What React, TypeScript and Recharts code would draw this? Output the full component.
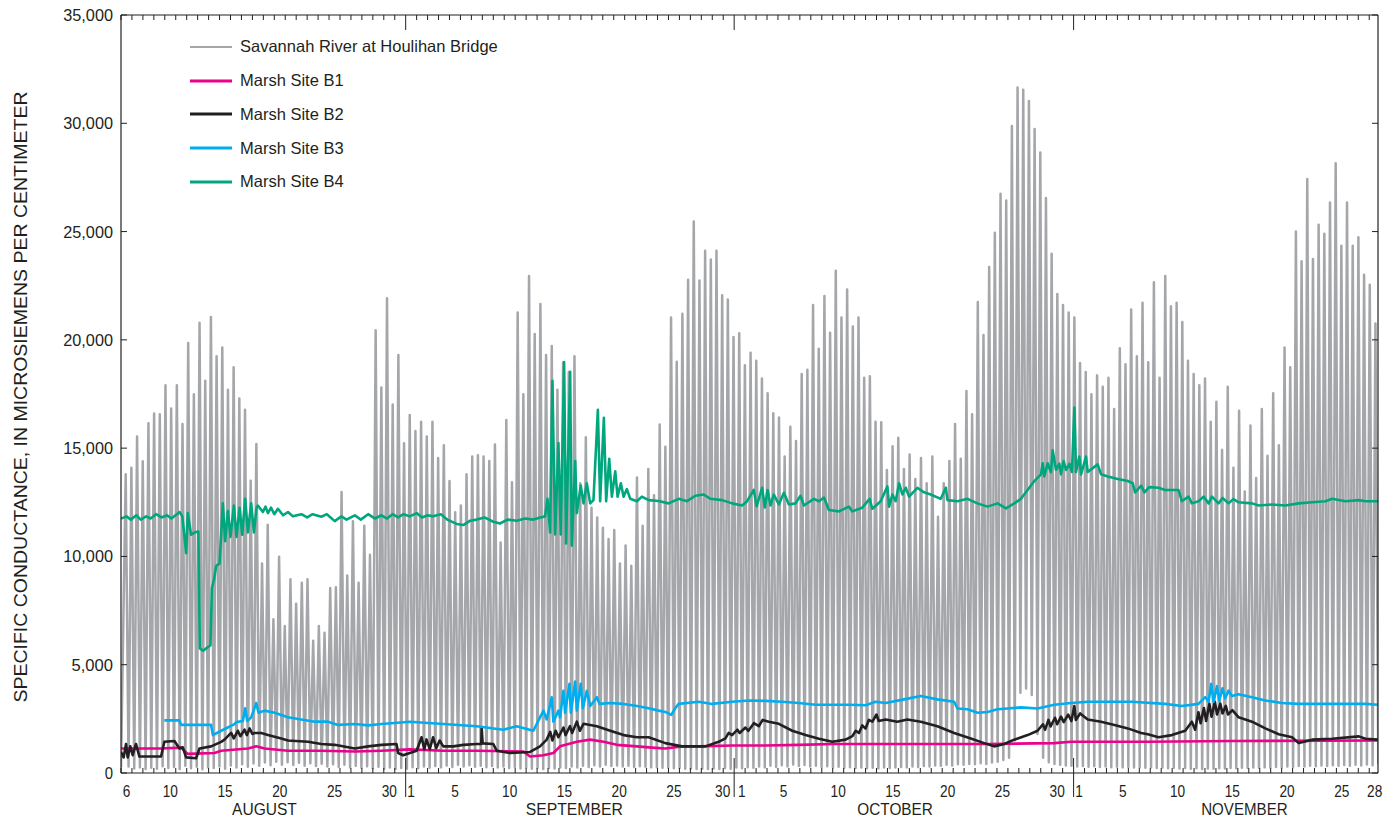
import { LineChart, Line, XAxis, YAxis, Legend } from "recharts";

const INK = "#231f20";
const SANS = "'Liberation Sans', Arial, sans-serif";

// frame of the plotting area, px
const W = 1400;
const H = 823;
const LEFT = 121;
const RIGHT = 1378;
const TOP = 15;
const BOTTOM = 773;

// x axis is in days counted from Aug 6, 00:00; it ends late on Nov 28
const DAY_SPAN = 114.8;
const DAY_BOUNDARIES = Array.from({ length: 115 }, (_, i) => i);
const MONTH_STARTS = [26, 56, 87];
// day numbers sit at the middle of their day (Sep 30 / Oct 1 nudged apart around the divider)
const DAY_LABELS = [
  [0.5, "6"], [4.5, "10"], [9.5, "15"], [14.5, "20"], [19.5, "25"], [24.5, "30"],
  [26.5, "1"], [30.5, "5"], [35.5, "10"], [40.5, "15"], [45.5, "20"], [50.5, "25"], [54.95, "30"],
  [56.7, "1"], [60.5, "5"], [65.5, "10"], [70.5, "15"], [75.5, "20"], [80.5, "25"], [85.5, "30"],
  [87.5, "1"], [91.5, "5"], [96.5, "10"], [101.5, "15"], [106.5, "20"], [111.5, "25"], [114.5, "28"],
] as const;
const MONTH_LABELS = [
  [13.1, "AUGUST"], [41.4, "SEPTEMBER"], [70.7, "OCTOBER"], [102.6, "NOVEMBER"],
] as const;
const Y_TICKS = [0, 5000, 10000, 15000, 20000, 25000, 30000, 35000];

// Savannah River: one high and the following low per semidiurnal tide
const RIVER_FIRST_PEAK = 0.43;
const RIVER_STEP = 0.5188;
const RIVER_START_LOW = 260;
const RIVER_HIGHS = [
  13790, 14100, 15540, 14400, 16150, 16600, 16570, 17900, 16830, 17900,
  16110, 19860, 17490, 20790, 18110, 21050, 19240, 19650, 17700, 18730,
  17290, 16770, 13500, 15190, 9670, 11460, 7100, 9980, 6790, 8950,
  7820, 8790, 8950, 6110, 6790, 6480, 8540, 8580, 12970, 9120,
  11630, 8790, 11420, 10080, 20440, 17800,
  21920, 17020, 19300, 15230, 16530, 15790, 16220, 15540, 16220, 14550,
  15130, 13480, 12040, 12350, 13790, 14610, 14670, 14610, 14410, 15170,
  10640, 16300, 13420, 21260, 17490, 22950, 20270, 21650, 19300, 19720,
  17700, 18970, 18520, 19240, 13380, 15500, 12250, 11800, 11320, 10800,
  11220, 9670, 10500, 9570, 13640,
  11420, 14040, 12820, 16090, 15060, 21030, 18990, 21200, 22780, 25460,
  22740, 24120, 23710, 24120, 22060, 21860, 20130, 20310, 18830, 19410,
  19040, 18210, 17530, 16610, 16420, 14610, 15990, 15330, 18420, 18620,
  21610, 19590, 22020, 20330, 23190, 21030, 22330, 20620, 21030, 18250,
  18320, 16220, 16200, 13990,
  15090, 15480, 14040, 14710, 13580, 14550, 13380, 14610, 11830, 13380,
  14410, 16110, 14510, 17640, 16570, 21750, 20230, 23360, 24940, 26750,
  26440, 29880, 31650, 31550, 31030, 29740, 28650, 26550, 23980, 22120,
  21610, 21260, 21030, 18930, 18520, 17490, 18360, 17840, 18250, 16810,
  19610, 18870,
  21400, 19240, 21710, 18970, 22660, 18250, 22950, 21550, 21710, 20830,
  19030, 18420, 17900, 18210, 16220, 17140, 14920, 17830, 14100, 16730,
  13000, 16050, 13620, 16810, 14650, 17530, 15130, 19650, 18730, 25000,
  23630, 27430, 23730, 25310, 24900, 26340, 28150, 24350, 26340, 24350,
  24740, 23010, 22540, 20750,
];
const RIVER_LOWS = [
  300, 210, 260, 180, 240, 200, 310, 230, 280, 190,
  330, 220, 290, 170, 260, 230, 300, 200, 350, 250,
  400, 290, 440, 330, 480, 360, 520, 380, 500, 370,
  470, 340, 450, 320, 430, 300, 400, 280, 380, 260,
  340, 240, 310, 220, 290, 200,
  250, 180, 230, 200, 270, 220, 300, 240, 320, 260,
  350, 280, 380, 300, 360, 290, 340, 270, 320, 250,
  300, 230, 280, 210, 260, 200, 240, 190, 230, 210,
  260, 230, 300, 250, 330, 280, 360, 300, 380, 320,
  350, 300, 330, 280, 310,
  290, 260, 270, 240, 250, 220, 230, 200, 210, 190,
  200, 180, 210, 190, 230, 200, 250, 220, 270, 240,
  300, 260, 330, 280, 360, 300, 390, 320, 370, 300,
  340, 280, 310, 260, 290, 240, 270, 230, 250, 220,
  240, 210, 260, 230,
  250, 280, 260, 300, 280, 320, 300, 350, 330, 380,
  350, 400, 380, 420, 400, 450, 420, 480, 520, 600,
  700, 1500, 3700, 3900, 3600, 1800, 700, 500, 420, 380,
  350, 330, 300, 320, 290, 310, 280, 300, 270, 290,
  260, 280,
  250, 270, 240, 260, 230, 250, 220, 240, 210, 230,
  200, 220, 190, 210, 200, 220, 210, 230, 220, 240,
  230, 250, 240, 260, 250, 280, 260, 300, 280, 320,
  300, 340, 310, 350, 320, 360, 330, 370, 340, 380,
  350, 390, 360, 400,
];

// marsh sites: [day, specific conductance]
const B1_POINTS = [
  [0, 1130], [3.66, 1130], [5.49, 1170], [6.1, 885], [8.54, 925], [9.15, 1030],
  [11.59, 1130], [12.35, 1230], [13.11, 1130], [15.25, 1030], [18.3, 1030],
  [21.35, 990], [23.79, 1030], [26.38, 1090], [29.43, 1030], [32.48, 1030],
  [36.75, 990], [37.36, 760], [38.58, 820], [39.49, 925], [40.1, 1230],
  [41.63, 1440], [42.85, 1540], [44.07, 1440], [45.29, 1300], [47.12, 1230],
  [48.5, 1170], [49.71, 1130], [51.23, 1230], [52.76, 1230], [55.81, 1270],
  [58.86, 1270], [61.91, 1300], [64.96, 1340], [68.01, 1340], [70, 1340],
  [79.14, 1340], [85.24, 1380], [86.76, 1440], [93.78, 1440], [101.46, 1480],
  [114.8, 1500],
];
const B2_POINTS = [
  [0, 970], [0.24, 720], [0.46, 1340], [0.61, 720], [0.85, 1230], [1.07, 820],
  [1.37, 1340], [1.68, 760], [3.66, 760], [3.96, 1440], [4.88, 1480], [5.34, 1130],
  [5.64, 1190], [5.95, 720], [6.86, 680], [7.17, 1130], [8.23, 1230], [9.15, 1440],
  [9.45, 1540], [10.06, 1850], [10.3, 1600], [10.67, 1950], [10.9, 1700],
  [11.28, 2000], [11.5, 1750], [11.74, 2060], [12.0, 1800], [12.2, 1850],
  [12.81, 1850], [13.42, 1750], [14.64, 1590], [15.25, 1500], [17.08, 1440],
  [18.3, 1340], [19.52, 1300], [21.35, 1130], [22.57, 1230], [23.79, 1300],
  [25.16, 1340], [25.31, 925], [25.77, 820], [26.38, 925], [27.0, 1030],
  [27.45, 1650], [27.7, 1100], [27.9, 1550], [28.2, 1100], [28.5, 1650],
  [28.8, 1150], [29.1, 1500], [29.43, 1230], [30.35, 1230], [31.26, 1300],
  [32.48, 1340], [32.9, 1340], [32.94, 2060], [33.03, 1370], [34.0, 1340],
  [34.31, 1030], [35.53, 925], [37.36, 970], [38.27, 1230], [38.88, 1540],
  [39.2, 1900], [39.4, 1500], [39.7, 1950], [39.95, 1650], [40.41, 2100],
  [40.6, 1750], [41.0, 2160], [41.2, 1850], [41.63, 2370], [41.9, 1950],
  [42.24, 2270], [42.85, 2220], [43.46, 2160], [44.68, 1950], [45.9, 1750],
  [47.12, 1650], [48.19, 1650], [49.71, 1380], [51.23, 1230], [52.45, 1230],
  [53.37, 1230], [54.59, 1440], [55.2, 1600], [55.5, 1850], [55.81, 1750],
  [56.3, 2000], [56.5, 1850], [57.03, 2100], [57.3, 1950], [57.8, 2300],
  [58.25, 2160], [58.6, 2450], [59.16, 2370], [60.08, 2270], [61.3, 1950],
  [62.52, 1750], [63.74, 1580], [64.96, 1440], [66.18, 1540], [66.8, 1700],
  [67.1, 1950], [67.4, 1850], [67.7, 2200], [68.0, 2050], [68.3, 2450],
  [68.62, 2370], [69.0, 2700], [69.2, 2400], [69.84, 2470], [70.9, 2370],
  [71.82, 2470], [73.04, 2370], [74.56, 2160], [76.09, 1850], [77.61, 1590],
  [78.83, 1380], [79.75, 1230], [80.66, 1340], [81.58, 1540], [82.8, 1750],
  [83.71, 1950], [84.2, 2250], [84.4, 2000], [84.7, 2450], [84.9, 2150],
  [85.3, 2550], [85.5, 2250], [85.85, 2600], [86.1, 2350], [86.5, 2700],
  [86.8, 2400], [87.07, 3090], [87.2, 2450], [87.6, 2750], [88.29, 2470],
  [89.51, 2370], [90.73, 2220], [91.95, 2060], [93.17, 1850], [93.78, 1790],
  [94.75, 1650], [95.97, 1750], [97.19, 1950], [97.8, 2370], [98.1, 2000],
  [98.4, 2800], [98.6, 2300], [98.9, 3000], [99.1, 2400], [99.4, 3200],
  [99.6, 2600], [99.9, 3290], [100.1, 2700], [100.4, 3200], [100.6, 2750],
  [100.9, 3100], [101.1, 2700], [101.5, 2900], [102.07, 2570], [103.29, 2370],
  [104.51, 2060], [105.73, 1790], [106.95, 1650], [107.56, 1380], [108.78, 1540],
  [110.61, 1580], [113.05, 1690], [113.66, 1580], [114.8, 1540],
];
const B3_POINTS = [
  [3.96, 2430], [5.34, 2430], [5.49, 2220], [8.23, 2220], [8.39, 1750],
  [9.15, 1950], [10.37, 2260], [10.52, 2350], [11.13, 2400], [11.34, 2990],
  [11.53, 2400], [11.89, 2570], [12.35, 3230], [12.56, 2780], [13.11, 2880],
  [14.03, 2780], [15.25, 2570], [16.47, 2470], [17.69, 2370], [18.91, 2370],
  [19.82, 2220], [21.35, 2260], [22.57, 2200], [23.79, 2260], [26.38, 2370],
  [29.43, 2260], [32.48, 2160], [34.92, 2000], [36.14, 2160], [37.66, 1950],
  [38.27, 2570], [38.58, 2880], [38.88, 2470], [39.34, 3500], [39.49, 2370],
  [39.95, 2880], [40.1, 2570], [40.41, 3800], [40.56, 2780], [40.96, 4120],
  [41.08, 2780], [41.48, 4220], [41.63, 2880], [41.99, 4120], [42.18, 2990],
  [42.54, 3800], [42.85, 3090], [43.46, 3500], [43.7, 3190], [44.68, 3230],
  [45.9, 3190], [47.12, 3090], [48.19, 2990], [49.1, 2880], [49.71, 2820],
  [50.26, 2680], [50.62, 2990], [50.93, 3190], [52.76, 3290], [53.98, 3190],
  [55.81, 3290], [57.33, 3350], [58.86, 3330], [60.38, 3290], [61.91, 3230],
  [63.43, 3150], [64.96, 3150], [66.48, 3150], [68.01, 3130], [68.92, 3290],
  [69.84, 3230], [71.51, 3400], [73.04, 3560], [74.56, 3400], [76.09, 3290],
  [76.39, 2980], [77.31, 2940], [78.22, 2780], [79.14, 2820], [80.05, 2940],
  [80.97, 2980], [82.19, 3030], [83.71, 2980], [85.24, 3150], [86.76, 3230],
  [88.29, 3290], [91.34, 3290], [92.31, 3290], [95.36, 3190], [96.88, 3090],
  [98.41, 3190], [99.02, 3500], [99.33, 3300], [99.57, 4120], [99.78, 3290],
  [100.09, 4010], [100.3, 3350], [100.6, 3910], [100.85, 3450], [101.15, 3810],
  [101.46, 3550], [102.07, 3640], [103.29, 3500], [104.51, 3350], [106.03, 3230],
  [107.56, 3190], [110.61, 3190], [113.66, 3190], [114.8, 3150],
];
const B4_POINTS = [
  [0, 11750], [0.5, 11850], [0.9, 11700], [1.4, 11900], [1.8, 11700], [2.3, 11850],
  [2.7, 11750], [3.2, 11950], [3.7, 11800], [4.2, 11900], [4.6, 11750], [5.1, 11950],
  [5.35, 12050], [5.6, 11850], [5.95, 10150], [6.1, 12000], [6.4, 11000], [6.7, 11100],
  [7.07, 11150], [7.2, 5750], [7.5, 5650], [8.17, 5900], [8.3, 8540], [8.5, 8950],
  [8.7, 9570], [9.0, 9670], [9.3, 12450], [9.51, 10700], [9.76, 12100], [10.0, 10900],
  [10.31, 12350], [10.55, 10900], [10.83, 12250], [11.07, 11000], [11.34, 12660],
  [11.59, 11110], [11.89, 12450], [12.14, 11110], [12.38, 12250], [12.5, 12350],
  [12.96, 12050], [13.2, 12300], [13.42, 12000], [13.7, 12250], [14.0, 11950],
  [14.33, 12200], [14.8, 11900], [15.25, 12050], [15.7, 11850], [16.47, 11950],
  [17.0, 11800], [17.5, 11950], [18.3, 11830], [18.8, 11950], [19.52, 11630],
  [20.13, 11850], [20.6, 11700], [21.35, 11900], [21.9, 11700], [22.57, 11950],
  [23.2, 11750], [23.79, 11900], [24.3, 11750], [24.8, 11950], [25.31, 11800],
  [25.8, 11950], [26.38, 11850], [27.0, 12000], [27.5, 11800], [28.0, 11900],
  [28.5, 11850], [29.2, 11950], [29.8, 11700], [30.65, 11500], [31.26, 11450],
  [31.9, 11650], [32.48, 11700], [33.2, 11800], [34.0, 11600], [34.61, 11520],
  [35.3, 11700], [36.14, 11650], [36.9, 11750], [37.66, 11700], [38.3, 11800],
  [38.73, 11850], [38.95, 12660], [39.19, 11110], [39.4, 18110], [39.65, 11010],
  [39.95, 15230], [40.16, 11010], [40.47, 18970], [40.65, 10600], [41.02, 18520],
  [41.17, 10500], [41.48, 14400], [41.63, 12000], [41.99, 13270], [42.24, 12450],
  [42.54, 13380], [42.85, 12450], [43.15, 12600], [43.55, 16770], [43.76, 12550],
  [44.1, 16400], [44.31, 12550], [44.59, 14510], [44.83, 12760], [45.14, 13930],
  [45.35, 12760], [45.65, 13380], [45.9, 12760], [46.2, 13110], [46.51, 12660],
  [47.12, 12550], [47.57, 12760], [48.19, 12600], [49.1, 12560], [50.01, 12450],
  [50.93, 12660], [51.7, 12550], [52.45, 12800], [53.22, 12860], [53.83, 12660],
  [54.9, 12600], [55.81, 12450], [56.72, 12350], [57.18, 12550], [57.79, 13070],
  [58.05, 12310], [58.55, 13170], [58.8, 12260], [59.05, 13070], [59.32, 12350],
  [59.62, 12860], [60.08, 12400], [60.54, 12940], [61.0, 12400], [61.6, 12450],
  [62.06, 12800], [62.37, 12350], [63.28, 12660], [63.74, 12550], [64.2, 12720],
  [64.65, 12140], [65.57, 12080], [66.48, 12300], [66.79, 12080], [67.7, 12250],
  [68.37, 12660], [68.62, 12200], [69.38, 12550], [69.99, 13230], [70.15, 12300],
  [70.45, 12860], [70.75, 12550], [71.06, 13380], [71.36, 12860], [71.67, 13170],
  [71.97, 12760], [72.73, 13170], [73.34, 12960], [73.95, 12860], [74.87, 12660],
  [75.33, 13170], [75.48, 12600], [76.39, 12550], [77.31, 12660], [78.22, 12450],
  [79.14, 12300], [80.05, 12450], [80.82, 12220], [81.58, 12450], [82.19, 12660],
  [82.8, 13070], [83.41, 13480], [84.02, 13790], [84.17, 14300], [84.32, 13690],
  [84.63, 14300], [84.93, 13890], [85.09, 14900], [85.39, 14000], [85.7, 14280],
  [85.85, 13790], [86.09, 14400], [86.31, 13990], [86.61, 14280], [86.85, 13900],
  [87.07, 16880], [87.22, 13900], [87.52, 14610], [87.68, 13790], [88.13, 14610],
  [88.29, 13900], [89.2, 14250], [89.51, 13790], [90.12, 13690], [91.03, 13580],
  [91.95, 13480], [92.4, 13380], [92.62, 12960], [93.17, 13270], [93.47, 12960],
  [93.9, 13200], [94.75, 13170], [95.36, 13070], [96.58, 13070], [96.88, 12550],
  [97.19, 12660], [97.5, 12760], [97.8, 12450], [98.41, 12550], [98.87, 12760],
  [99.33, 12450], [99.63, 12760], [100.24, 12450], [100.6, 12700], [101.15, 12450],
  [101.6, 12650], [102.07, 12500], [103.29, 12450], [103.9, 12350], [105.12, 12400],
  [106.34, 12350], [107.56, 12450], [108.78, 12500], [110.0, 12550], [110.61, 12660],
  [111.83, 12550], [113.05, 12600], [113.66, 12550], [114.8, 12550],
];

const SERIES = [
  { key: "river", name: "Savannah River at Houlihan Bridge", color: "#a4a6a9", width: 2.5 },
  { key: "b1", name: "Marsh Site B1", color: "#ec008c", width: 2.6 },
  { key: "b2", name: "Marsh Site B2", color: INK, width: 2.6 },
  { key: "b3", name: "Marsh Site B3", color: "#00aeef", width: 2.6 },
  { key: "b4", name: "Marsh Site B4", color: "#00a77e", width: 2.6 },
];

const riverData = [
  { day: 0, value: RIVER_START_LOW },
  ...RIVER_HIGHS.flatMap((high, i) => {
    const t = RIVER_FIRST_PEAK + i * RIVER_STEP;
    return [
      { day: t, value: high },
      { day: t + RIVER_STEP / 2, value: RIVER_LOWS[i] },
    ];
  }),
];
const toRows = (pts: readonly (readonly number[])[]) => pts.map(([day, value]) => ({ day, value }));
const DATA: Record<string, { day: number; value: number }[]> = {
  river: riverData,
  b1: toRows(B1_POINTS),
  b2: toRows(B2_POINTS),
  b3: toRows(B3_POINTS),
  b4: toRows(B4_POINTS),
};

// the bottom axis carries day boundaries (integers), day numbers and month names
const X_TICKS = [
  ...DAY_BOUNDARIES,
  ...DAY_LABELS.map(([d]) => d),
  ...MONTH_LABELS.map(([d]) => d),
].sort((a, b) => a - b);

// condensed look: squeeze the regular face to a fixed advance per character
const Condensed = ({ x, y, text, size, advance, anchor = "middle" }: any) => (
  <text x={x} y={y} textAnchor={anchor} fontFamily={SANS} fontSize={size} fill={INK}
    textLength={text.length * advance} lengthAdjust="spacingAndGlyphs">
    {text}
  </text>
);

const BottomTick = ({ x, payload }: any) => {
  const v = payload.value;
  if (Number.isInteger(v)) {
    const start = MONTH_STARTS.includes(v);
    return (
      <g stroke={INK} strokeWidth={1}>
        <line x1={x} x2={x} y1={BOTTOM - (start ? 15 : 5)} y2={start ? BOTTOM + 24 : BOTTOM} />
        <line x1={x} x2={x} y1={TOP} y2={TOP + (start ? 15 : 5)} />
      </g>
    );
  }
  const day = DAY_LABELS.find(([d]) => d === v);
  if (day) return <Condensed x={x} y={BOTTOM + 24} text={day[1]} size={17} advance={7.6} />;
  const month = MONTH_LABELS.find(([d]) => d === v);
  if (month) return <Condensed x={x} y={BOTTOM + 42} text={month[1]} size={16.5} advance={10.8} />;
  return <g />;
};

// value labels on the left, inward tick marks on both sides
const LeftTick = ({ y, payload }: any) => (
  <g>
    <Condensed x={LEFT - 8} y={y + 6} text={payload.value.toLocaleString("en-US")} size={16.5}
      advance={8.3} anchor="end" />
    <line x1={LEFT} x2={LEFT + 6} y1={y} y2={y} stroke={INK} strokeWidth={1} />
    <line x1={RIGHT - 6} x2={RIGHT} y1={y} y2={y} stroke={INK} strokeWidth={1} />
  </g>
);

const YTitle = () => (
  <text
    transform={`translate(20 ${(TOP + BOTTOM) / 2 + 3}) rotate(-90)`}
    textAnchor="middle"
    dominantBaseline="central"
    fontFamily={SANS}
    fontSize={19}
    fill={INK}
    textLength={611}
    lengthAdjust="spacingAndGlyphs"
  >
    SPECIFIC CONDUCTANCE, IN MICROSIEMENS PER CENTIMETER
  </text>
);

const LegendBox = () => (
  <div style={{ fontFamily: SANS, fontSize: 16.5, color: INK }}>
    {SERIES.map((s) => (
      <div key={s.key} style={{ display: "flex", alignItems: "center", height: 33.75 }}>
        <svg width={42} height={4} style={{ display: "block" }}>
          <line x1={0} x2={42} y1={2} y2={2} stroke={s.color} strokeWidth={s.key === "river" ? 2.2 : 3} />
        </svg>
        <span style={{ marginLeft: 8, whiteSpace: "nowrap" }}>{s.name}</span>
      </div>
    ))}
  </div>
);

// top and right axes only close the frame; they get a 1px band so their lines are drawn
export default function App() {
  return (
    <div style={{ position: "absolute", left: 0, top: 0, width: W, height: H, background: "#fff" }}>
      <LineChart width={W} height={H} margin={{ top: TOP - 1, right: W - RIGHT - 1, bottom: 0, left: 0 }}>
        <XAxis xAxisId="days" type="number" dataKey="day" domain={[0, DAY_SPAN]} ticks={X_TICKS}
          interval={0} height={H - BOTTOM} tickLine={false} axisLine={{ stroke: INK, strokeWidth: 1.2 }}
          tick={BottomTick} allowDataOverflow />
        <XAxis xAxisId="top" orientation="top" type="number" domain={[0, DAY_SPAN]} height={1}
          tick={false} tickLine={false} axisLine={{ stroke: INK, strokeWidth: 1.2 }} allowDataOverflow />
        <YAxis yAxisId="left" type="number" domain={[0, 35000]} ticks={Y_TICKS} interval={0} width={LEFT}
          tickLine={false} axisLine={{ stroke: INK, strokeWidth: 1.2 }} tick={LeftTick}
          label={<YTitle />} allowDataOverflow />
        <YAxis yAxisId="right" orientation="right" type="number" domain={[0, 35000]} width={1}
          tick={false} tickLine={false} axisLine={{ stroke: INK, strokeWidth: 1.2 }} allowDataOverflow />
        <Legend layout="vertical" align="center" verticalAlign="middle"
          wrapperStyle={{ left: 190, top: 30, width: 360 }} content={() => <LegendBox />} />
        {SERIES.map((s) => (
          <Line key={s.key} xAxisId="days" yAxisId="left" data={DATA[s.key]} dataKey="value" name={s.name}
            type="linear" stroke={s.color} strokeWidth={s.width} strokeLinejoin="round" dot={false}
            activeDot={false} isAnimationActive={false} />
        ))}
      </LineChart>
    </div>
  );
}
